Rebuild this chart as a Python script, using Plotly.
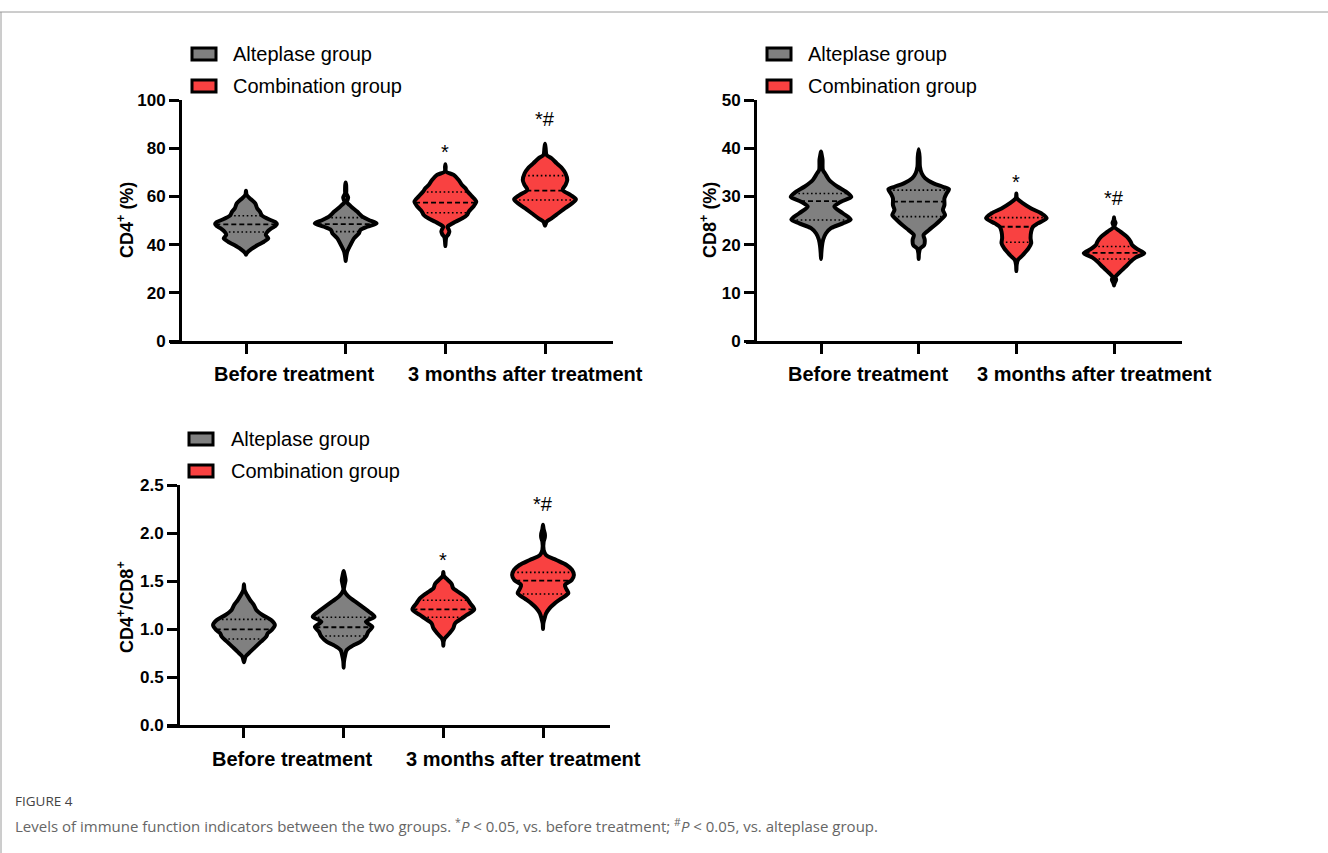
import numpy as np
import plotly.graph_objects as go

W, H = 1328, 853

# ---------------- data ----------------
positions = [1, 2, 3, 4]
group_labels = ["Before treatment", "3 months after treatment"]
group_label_x = [1.48, 3.80]
legend_labels = ["Alteplase group", "Combination group"]
violin_group = [0, 0, 1, 1]
group_colors = ["#808080", "#F94141"]

# CD4+ (%) violin outlines: value levels and relative density width
cd4_v1_y = [35.8, 36.4, 38.2, 39.8, 41.2, 42.6, 44.0, 45.4, 46.8, 47.7, 48.5, 49.3, 50.6, 52.0, 53.7, 55.1, 57.1, 58.8, 60.6, 62.3]
cd4_v1_w = [0, 0.02, 0.18, 0.38, 0.58, 0.72, 0.64, 0.70, 0.83, 0.95, 1.0, 0.95, 0.72, 0.52, 0.45, 0.36, 0.30, 0.16, 0.02, 0]
cd4_v2_y = [33.2, 34.3, 37.1, 39.8, 42.6, 44.7, 46.1, 47.4, 48.8, 50.2, 51.6, 53.7, 55.5, 56.5, 57.6, 58.6, 59.5, 60.4, 61.2, 62.5, 64.7, 65.8]
cd4_v2_w = [0, 0.01, 0.05, 0.15, 0.27, 0.43, 0.48, 0.70, 1.0, 0.75, 0.54, 0.37, 0.20, 0.12, 0.03, 0.06, 0.08, 0.05, 0.02, 0.02, 0.015, 0]
cd4_v3_y = [39.4, 41.2, 43.0, 44.3, 45.4, 46.5, 47.4, 49.5, 50.9, 52.3, 53.7, 55.7, 57.8, 59.9, 62.0, 63.4, 64.7, 66.8, 68.9, 70.3, 72.3, 73.3]
cd4_v3_w = [0, 0.01, 0.03, 0.10, 0.13, 0.10, 0.07, 0.33, 0.55, 0.70, 0.76, 0.90, 1.0, 0.87, 0.72, 0.65, 0.54, 0.43, 0.27, 0.02, 0.01, 0]
cd4_v4_y = [47.8, 49.5, 50.9, 53.0, 55.1, 57.1, 58.8, 60.6, 62.7, 64.7, 66.8, 69.6, 71.7, 73.7, 75.8, 77.2, 80.0, 81.8]
cd4_v4_w = [0, 0.05, 0.21, 0.43, 0.65, 0.87, 1.0, 0.82, 0.57, 0.66, 0.72, 0.66, 0.55, 0.38, 0.21, 0.05, 0.02, 0]
cd4_quart = [[45.2, 48.4, 52.0], [45.4, 48.5, 51.2], [53.2, 57.4, 61.8], [58.5, 62.4, 68.6]]

# CD8+ (%)
cd8_v1_y = [17.0, 18.2, 19.6, 21.0, 22.3, 23.4, 24.4, 25.2, 26.5, 27.9, 28.9, 29.9, 31.0, 32.0, 33.4, 34.8, 35.5, 37.6, 38.7, 39.3]
cd8_v1_w = [0, 0.01, 0.03, 0.07, 0.16, 0.33, 0.72, 0.98, 0.72, 0.44, 0.66, 1.0, 0.82, 0.55, 0.27, 0.13, 0.06, 0.05, 0.02, 0]
cd8_v2_y = [17.0, 18.2, 19.2, 19.9, 21.0, 22.0, 23.0, 24.1, 25.1, 26.1, 27.2, 28.2, 29.6, 30.6, 31.5, 32.0, 32.7, 33.8, 34.8, 36.2, 38.2, 39.8]
cd8_v2_w = [0, 0.01, 0.05, 0.18, 0.20, 0.16, 0.33, 0.55, 0.72, 0.87, 0.80, 0.85, 0.85, 0.92, 1.0, 0.80, 0.49, 0.21, 0.10, 0.04, 0.03, 0]
cd8_v3_y = [14.5, 15.8, 16.8, 17.8, 19.2, 20.3, 21.3, 22.7, 23.7, 24.4, 25.5, 26.5, 27.5, 28.6, 29.6, 30.6]
cd8_v3_w = [0, 0.01, 0.05, 0.21, 0.40, 0.49, 0.47, 0.49, 0.55, 0.71, 1.0, 0.82, 0.49, 0.21, 0.02, 0]
cd8_v4_y = [11.5, 12.0, 12.7, 13.3, 14.4, 15.4, 16.5, 17.3, 18.2, 19.1, 19.9, 20.6, 21.6, 22.7, 23.7, 24.5, 25.1, 25.7]
cd8_v4_w = [0, 0.02, 0.07, 0.05, 0.21, 0.38, 0.55, 0.71, 1.0, 0.76, 0.60, 0.55, 0.43, 0.21, 0.01, 0.05, 0.01, 0]
cd8_quart = [[25.1, 29.0, 30.6], [25.8, 28.9, 31.3], [20.5, 23.7, 25.6], [17.0, 18.3, 19.6]]

# CD4+/CD8+
ratio_v1_y = [0.653, 0.712, 0.764, 0.816, 0.868, 0.92, 0.955, 0.99, 1.042, 1.094, 1.146, 1.198, 1.25, 1.302, 1.354, 1.406, 1.466]
ratio_v1_w = [0, 0.05, 0.21, 0.38, 0.55, 0.72, 0.77, 0.90, 1.0, 0.88, 0.60, 0.40, 0.32, 0.20, 0.10, 0.02, 0]
ratio_v2_y = [0.597, 0.66, 0.729, 0.781, 0.833, 0.868, 0.92, 0.972, 1.024, 1.076, 1.128, 1.18, 1.233, 1.285, 1.337, 1.406, 1.458, 1.51, 1.5625, 1.604]
ratio_v2_w = [0, 0.01, 0.05, 0.10, 0.33, 0.55, 0.72, 0.80, 0.93, 0.72, 1.0, 0.82, 0.60, 0.38, 0.16, 0.01, 0.03, 0.06, 0.03, 0]
ratio_v3_y = [0.826, 0.868, 0.903, 0.955, 1.007, 1.059, 1.111, 1.146, 1.205, 1.267, 1.319, 1.372, 1.424, 1.469, 1.51, 1.552, 1.594]
ratio_v3_w = [0, 0.01, 0.05, 0.20, 0.32, 0.38, 0.60, 0.76, 1.0, 0.87, 0.76, 0.55, 0.32, 0.27, 0.15, 0.02, 0]
ratio_v4_y = [1.0, 1.059, 1.111, 1.163, 1.215, 1.267, 1.319, 1.372, 1.413, 1.458, 1.51, 1.5625, 1.615, 1.667, 1.719, 1.77, 1.823, 1.91, 1.955, 1.99, 2.04, 2.085]
ratio_v4_w = [0, 0.01, 0.05, 0.10, 0.21, 0.38, 0.60, 0.82, 0.76, 0.71, 0.93, 1.0, 0.94, 0.76, 0.43, 0.10, 0.02, 0.02, 0.06, 0.06, 0.02, 0]
ratio_quart = [[0.896, 0.997, 1.10], [0.927, 1.018, 1.122], [1.122, 1.205, 1.299], [1.365, 1.503, 1.59]]

sig_marks = ["", "", "*", "*#"]

# ---------------- layout helpers ----------------
def px(x):
    return x / W

def py(y):
    return 1 - y / H

FONT = "Arial, Liberation Sans, sans-serif"
HALF_WIDTH = 0.31

panels = [
    dict(ax="", title="CD4<sup>+</sup> (%)", yrange=[0, 100], ticks=[0, 20, 40, 60, 80, 100], fmt="",
         xdom=(170, 613), xrange=[0.2375, 4.682], ypos=180, ydom=(100, 341),
         ys=[cd4_v1_y, cd4_v2_y, cd4_v3_y, cd4_v4_y], ws=[cd4_v1_w, cd4_v2_w, cd4_v3_w, cd4_v4_w],
         quart=cd4_quart, mark_y=[None, None, 78.6, 92.1],
         title_xy=(126, 220), label_y=374, leg=(192, 231, 54, 86)),
    dict(ax="2", title="CD8<sup>+</sup> (%)", yrange=[0, 50], ticks=[0, 10, 20, 30, 40, 50], fmt="",
         xdom=(746, 1182), xrange=[0.232, 4.696], ypos=755, ydom=(100, 341),
         ys=[cd8_v1_y, cd8_v2_y, cd8_v3_y, cd8_v4_y], ws=[cd8_v1_w, cd8_v2_w, cd8_v3_w, cd8_v4_w],
         quart=cd8_quart, mark_y=[None, None, 32.9, 29.7],
         title_xy=(709, 220), label_y=374, leg=(767, 806, 54, 86)),
    dict(ax="3", title="CD4<sup>+</sup>/CD8<sup>+</sup>", yrange=[0, 2.5], ticks=[0, 0.5, 1.0, 1.5, 2.0, 2.5], fmt=".1f",
         xdom=(167, 610), xrange=[0.228, 4.672], ypos=178, ydom=(485, 725),
         ys=[ratio_v1_y, ratio_v2_y, ratio_v3_y, ratio_v4_y], ws=[ratio_v1_w, ratio_v2_w, ratio_v3_w, ratio_v4_w],
         quart=ratio_quart, mark_y=[None, None, 1.72, 2.30],
         title_xy=(125, 607), label_y=759, leg=(189, 229, 439, 471)),
]

fig = go.Figure()
annotations = []
shapes = []
layout_axes = {}

axis_common = dict(showline=True, linecolor="black", linewidth=3, ticks="outside", ticklen=10,
                   tickwidth=3, tickcolor="black", showgrid=False, zeroline=False, fixedrange=True,
                   automargin=False)

for p in panels:
    xa = "x" + p["ax"]
    ya = "y" + p["ax"]
    for i, x0 in enumerate(positions):
        ys = p["ys"][i]
        ws = p["ws"][i]
        col = group_colors[violin_group[i]]
        xr = [x0 + w * HALF_WIDTH for w in ws]
        xl = [x0 - w * HALF_WIDTH for w in ws[::-1]]
        X = xr + xl[1:]
        Y = list(ys) + list(ys[::-1])[1:]
        fig.add_trace(go.Scatter(x=X, y=Y, mode="lines", fill="toself", fillcolor=col,
                                 line=dict(color="black", width=4, shape="spline", smoothing=0.8),
                                 xaxis=xa, yaxis=ya, hoverinfo="skip", showlegend=False))
        for k, q in enumerate(p["quart"][i]):
            hw = float(np.interp(q, ys, ws)) * HALF_WIDTH
            fig.add_trace(go.Scatter(x=[x0 - hw, x0 + hw], y=[q, q], mode="lines",
                                     line=dict(color="black", width=1.8 if k == 1 else 1.6,
                                               dash="5px,3px" if k == 1 else "1.6px,2.6px"),
                                     xaxis=xa, yaxis=ya, hoverinfo="skip", showlegend=False))
        if sig_marks[i]:
            annotations.append(dict(x=x0, y=p["mark_y"][i], xref=xa, yref=ya, text=sig_marks[i],
                                    showarrow=False, xanchor="center", yanchor="middle",
                                    font=dict(family=FONT, size=20, color="black")))
    # axes
    layout_axes["xaxis" + p["ax"]] = dict(axis_common, domain=[px(p["xdom"][0]), px(p["xdom"][1])],
                                          range=p["xrange"], anchor=ya, tickvals=positions,
                                          showticklabels=False)
    layout_axes["yaxis" + p["ax"]] = dict(axis_common, domain=[py(p["ydom"][1]), py(p["ydom"][0])],
                                          range=p["yrange"], anchor="free", position=px(p["ypos"]),
                                          tickvals=p["ticks"], tickformat=p["fmt"],
                                          tickfont=dict(family=FONT, size=17, color="black", weight="bold"))
    # group labels
    for gx, gl in zip(group_label_x, group_labels):
        annotations.append(dict(x=gx, y=py(p["label_y"]), xref=xa, yref="paper", text=gl,
                                showarrow=False, xanchor="center", yanchor="middle",
                                font=dict(family=FONT, size=20, color="black", weight="bold")))
    # y title
    annotations.append(dict(x=px(p["title_xy"][0]), y=py(p["title_xy"][1]), xref="paper", yref="paper",
                            text=p["title"], textangle=-90, showarrow=False, xanchor="center",
                            yanchor="middle", font=dict(family=FONT, size=18, color="black", weight="bold")))
    # legend
    lx, tx, ly1, ly2 = p["leg"]
    for gi, (label, ly) in enumerate(zip(legend_labels, [ly1, ly2])):
        shapes.append(dict(type="rect", xref="paper", yref="paper", x0=px(lx), x1=px(lx + 24),
                           y0=py(ly + 6), y1=py(ly - 6), fillcolor=group_colors[gi],
                           line=dict(color="black", width=3)))
        annotations.append(dict(x=px(tx), y=py(ly), xref="paper", yref="paper", text=label,
                                showarrow=False, xanchor="left", yanchor="middle",
                                font=dict(family=FONT, size=20, color="black")))

# caption & border
annotations.append(dict(x=px(13), y=py(801), xref="paper", yref="paper", text="FIGURE 4",
                        showarrow=False, xanchor="left", yanchor="middle",
                        font=dict(family="Open Sans, sans-serif", size=13.5, color="#444")))
annotations.append(dict(x=px(13), y=py(825), xref="paper", yref="paper",
                        text="Levels of immune function indicators between the two groups. <sup>*</sup><i>P</i> &lt; 0.05, vs. before treatment; <sup>#</sup><i>P</i> &lt; 0.05, vs. alteplase group.",
                        showarrow=False, xanchor="left", yanchor="middle",
                        font=dict(family="Open Sans, sans-serif", size=15, color="#666")))
shapes.append(dict(type="line", xref="paper", yref="paper", x0=0, x1=1, y0=py(12), y1=py(12),
                   line=dict(color="#9a9a9a", width=1)))
shapes.append(dict(type="line", xref="paper", yref="paper", x0=px(1), x1=px(1), y0=py(12), y1=0,
                   line=dict(color="#9a9a9a", width=1)))

fig.update_layout(template="none", width=W, height=H, margin=dict(l=0, r=0, t=0, b=0, pad=0),
                  paper_bgcolor="white", plot_bgcolor="white", showlegend=False,
                  annotations=annotations, shapes=shapes, **layout_axes)

fig.write_html("out.html", config={"displayModeBar": False},
               post_script="document.body.style.margin='0';document.body.style.overflow='hidden';")
